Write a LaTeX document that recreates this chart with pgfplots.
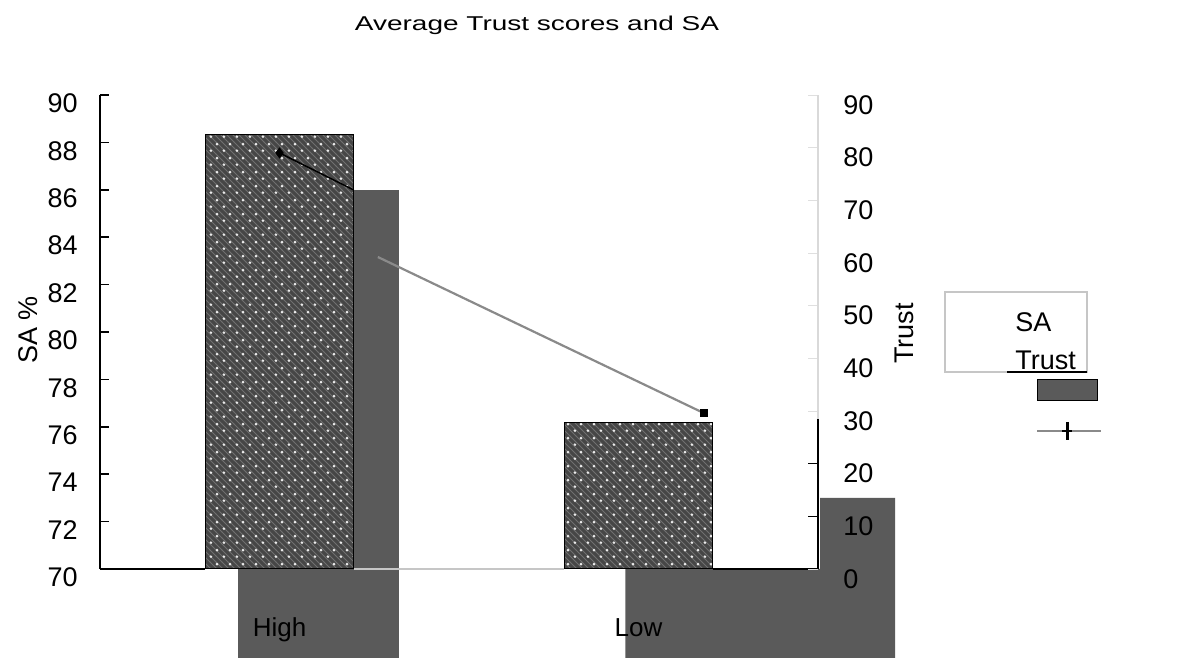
\documentclass[border=0pt]{standalone}
\usepackage{pgfplots}
\pgfplotsset{compat=1.18}
\usepackage{fontspec}
\setmainfont{Liberation Sans}
\usetikzlibrary{patterns}
\usepackage{graphicx}
\definecolor{shadegray}{RGB}{90,90,90}
\definecolor{barfill}{RGB}{70,70,70}
\definecolor{hatchg}{RGB}{112,112,112}
\definecolor{lineg}{RGB}{138,138,138}
\pgfdeclarepatternformonly{lattdots}{\pgfpointorigin}{\pgfpoint{6.5pt}{7pt}}{\pgfpoint{6.5pt}{7pt}}{%
  \pgfpathcircle{\pgfpoint{1.6pt}{1.75pt}}{0.8pt}%
  \pgfpathcircle{\pgfpoint{4.85pt}{5.25pt}}{0.8pt}%
  \pgfusepath{fill}}
\pgfplotsset{
  myaxis/.style={width=359pt, height=237pt, scale only axis, at={(0pt,0pt)}, anchor=south west, xmin=-0.5, xmax=1.5},
}
\begin{document}
\begin{tikzpicture}
\path[use as bounding box] (-50pt,-44.5pt) rectangle (539pt,284.5pt);
% misregistered dark shapes and bottom line
\begin{axis}[myaxis, ymin=70, ymax=90, hide axis, clip=false]
\addplot[fill=shadegray, draw=none] coordinates {(-0.1145,66.1) (-0.1145,85.99) (0.3324,85.99) (0.3324,66.1)} -- cycle;
\addplot[fill=shadegray, draw=none] coordinates {(0.9637,66.1) (0.9637,70) (1.5056,70) (1.5056,73.0) (1.7151,73.0) (1.7151,66.1)} -- cycle;
\addplot[black, line width=0.8pt] coordinates {(-0.5,70) (-0.2067,70)};
\addplot[gray!45, line width=0.8pt] coordinates {(0.2067,70) (0.7935,70)};
\addplot[black, line width=0.8pt] coordinates {(1.2065,70) (1.5,70)};
\end{axis}
% SA bars, left axis
\begin{axis}[myaxis, ymin=70, ymax=90,
  axis y line*=left, axis x line*=bottom, axis line style={-}, x axis line style={draw=none},
  y axis line style={line width=0.8pt},
  ytick={70,72,...,90}, xtick={0,1}, xticklabels={High,Low},
  tick align=inside, major tick length=4.5pt, xtick style={draw=none},
  ytick style={line width=0.8pt, black},
  /pgf/number format/assume math mode=true,
  tick label style={font=\fontsize{13.5}{15}\selectfont},
  yticklabel style={anchor=east, inner sep=0pt, xshift=-11pt, yshift=-4.2pt},
  xticklabel style={anchor=base, inner sep=0pt, yshift=-29pt, font=\fontsize{13}{15}\selectfont},
  ylabel={SA \%}, ylabel style={font=\fontsize{13.5}{16}\selectfont, at={(axis description cs:-0.1003,0.504)}, anchor=center},
  title={\scalebox{1.4}[1]{Average Trust scores and SA}},
  title style={font=\fontsize{10}{12}\selectfont, at={(axis description cs:0.6086,1.1097)}, anchor=base},
  ybar, bar width=0.413, bar shift=0pt,
]
\addplot[fill=barfill, draw=black, line width=0.5pt,
  postaction={pattern=north west lines, pattern color=hatchg},
  postaction={pattern=lattdots, pattern color=white!92!black}] coordinates {(0,88.35) (1,76.2)};
\end{axis}
% Trust, right axis
\begin{axis}[myaxis, ymin=0, ymax=90,
  axis y line*=right, axis x line=none, axis line style={-},
  y axis line style={gray!30, line width=0.6pt},
  ytick={0,10,...,90}, tick align=inside, major tick length=5pt,
  ytick style={gray!25},
  extra y ticks={10,20}, extra y tick labels={\mbox{},\mbox{}},
  extra y tick style={ytick style={black, line width=0.6pt}},
  /pgf/number format/assume math mode=true,
  tick label style={font=\fontsize{13.5}{15}\selectfont},
  yticklabel style={anchor=west, inner sep=0pt, xshift=12.5pt, yshift=-5pt},
  ylabel={Trust}, ylabel style={font=\fontsize{13.5}{16}\selectfont, at={(axis description cs:1.1198,0.497)}, anchor=center},
  clip=false,
  legend style={at={(axis description cs:1.3036,0.405)}, anchor=north west, draw=none, fill=none, inner sep=0pt, nodes={inner sep=0pt}},
]
\addplot[black, line width=0.6pt, forget plot] coordinates {(1.5,0) (1.5,28.5)};
\addplot[black, line width=0.75pt, forget plot] coordinates {(0,79.0) (0.207,71.96)};
\addplot[lineg, line width=1.1pt, forget plot] coordinates {(0.274,59.24) (1.182,29.6)};
\addplot[black, only marks, mark=diamond*, mark size=2.5pt, forget plot] coordinates {(0,79.0)};
\addplot[black, only marks, mark=square*, mark size=1.8pt, forget plot] coordinates {(1.182,29.6)};
\addlegendimage{legend image code/.code={
  \fill[fill=shadegray] (0pt,0pt) rectangle (30pt,-10.5pt);
  \draw[lineg, line width=1pt] (0pt,-26pt) -- (32pt,-26pt);
  \draw[black, line width=1.3pt] (15pt,-21.5pt) -- (15pt,-30.5pt);
  \draw[black, line width=1.3pt] (12.5pt,-26pt) -- (17.5pt,-26pt);
}}
\addlegendentry{\mbox{}}
\end{axis}
% legend text box
\draw[gray!45, line width=0.6pt] (422.5pt,98.5pt) rectangle (493.5pt,138.5pt);
\draw[black, line width=0.8pt] (453.5pt,98.5pt) -- (493.5pt,98.5pt);
\node[anchor=base west, inner sep=0pt, font=\fontsize{13.5}{16}\selectfont] at (457.5pt,118.5pt) {SA};
\node[anchor=base west, inner sep=0pt, font=\fontsize{13.5}{16}\selectfont] at (457.5pt,99.5pt) {Trust};
\end{tikzpicture}
\end{document}
